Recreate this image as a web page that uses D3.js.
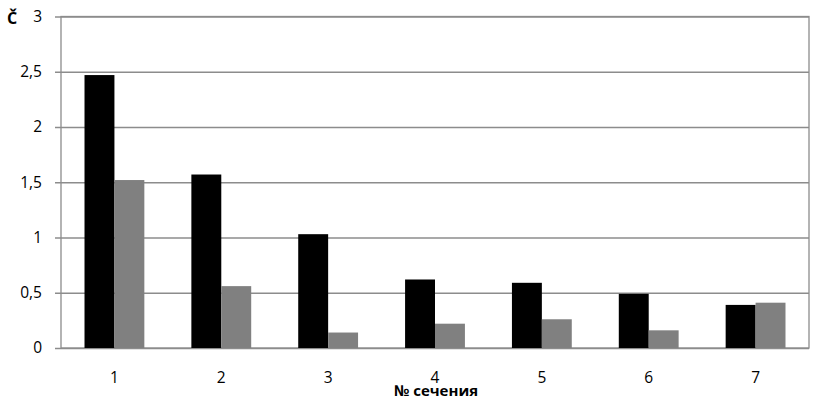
<!DOCTYPE html>
<html>
<head>
<meta charset="utf-8">
<script src="https://cdn.jsdelivr.net/npm/d3@7"></script>
<style>
  body { margin: 0; background: #fff; }
  svg text { font-family: "Open Sans", "DejaVu Sans", sans-serif; fill: #000; }
  .grid line { stroke: #8c8c8c; stroke-width: 1.3; }
  .grid path { display: none; }
</style>
</head>
<body>
<div id="chart"></div>
<script>
'use strict';

const categories = ['1', '2', '3', '4', '5', '6', '7'];
const seriesBlack = [2.47, 1.57, 1.03, 0.62, 0.59, 0.49, 0.39];
const seriesGray = [1.52, 0.56, 0.14, 0.22, 0.26, 0.16, 0.41];
const yTicks = [0, 0.5, 1, 1.5, 2, 2.5, 3];

const W = 819;
const H = 410;
const margin = { left: 61, right: 10, top: 16.5, bottom: 62 };
const width = W - margin.left - margin.right;
const height = H - margin.top - margin.bottom;

const svg = d3
  .select('#chart')
  .append('svg')
  .attr('width', W)
  .attr('height', H);

const chart = svg
  .append('g')
  .attr('transform', `translate(${margin.left}, ${margin.top})`);

const xScale = d3
  .scaleBand()
  .range([0, width])
  .domain(categories)
  .paddingInner(0.44)
  .paddingOuter(0.22);

const inner = d3
  .scaleBand()
  .domain(['black', 'gray'])
  .range([0, xScale.bandwidth()]);

const yScale = d3
  .scaleLinear()
  .range([height, 0])
  .domain([0, 3]);

// gridlines, with the little ticks sticking out left of the frame
chart
  .append('g')
  .attr('class', 'grid')
  .call(
    d3.axisLeft(yScale)
      .tickValues(yTicks)
      .tickSize(-(width + 6))
      .tickFormat(''),
  )
  .attr('transform', 'translate(-6, 0)');

chart
  .append('rect')
  .attr('x', 0)
  .attr('y', 0)
  .attr('width', width)
  .attr('height', height)
  .attr('fill', 'none')
  .attr('stroke', '#8c8c8c')
  .attr('stroke-width', 1.3);

const groups = chart
  .selectAll('.grp')
  .data(categories)
  .enter()
  .append('g')
  .attr('transform', c => `translate(${xScale(c)}, 0)`);

groups
  .append('rect')
  .attr('x', inner('black'))
  .attr('y', (c, i) => yScale(seriesBlack[i]))
  .attr('width', inner.bandwidth())
  .attr('height', (c, i) => height - yScale(seriesBlack[i]))
  .attr('fill', '#000');

groups
  .append('rect')
  .attr('x', inner('gray'))
  .attr('y', (c, i) => yScale(seriesGray[i]))
  .attr('width', inner.bandwidth())
  .attr('height', (c, i) => height - yScale(seriesGray[i]))
  .attr('fill', '#808080');

chart
  .selectAll('.ylab')
  .data(yTicks)
  .enter()
  .append('text')
  .attr('x', -19)
  .attr('y', d => yScale(d))
  .attr('dy', '0.35em')
  .attr('text-anchor', 'end')
  .style('font-size', '15.5px')
  .text(d => String(d).replace('.', ','));

chart
  .selectAll('.xlab')
  .data(categories)
  .enter()
  .append('text')
  .attr('x', c => xScale(c) + xScale.bandwidth() / 2)
  .attr('y', height + 35)
  .attr('text-anchor', 'middle')
  .style('font-size', '15.5px')
  .text(c => c);

svg
  .append('text')
  .attr('x', 436)
  .attr('y', 396)
  .attr('text-anchor', 'middle')
  .style('font-size', '15px')
  .style('font-weight', 'bold')
  .text('№ сечения');

svg
  .append('text')
  .attr('x', 7)
  .attr('y', 24)
  .style('font-size', '16px')
  .style('font-weight', 'bold')
  .text('Č');
</script>
</body>
</html>
